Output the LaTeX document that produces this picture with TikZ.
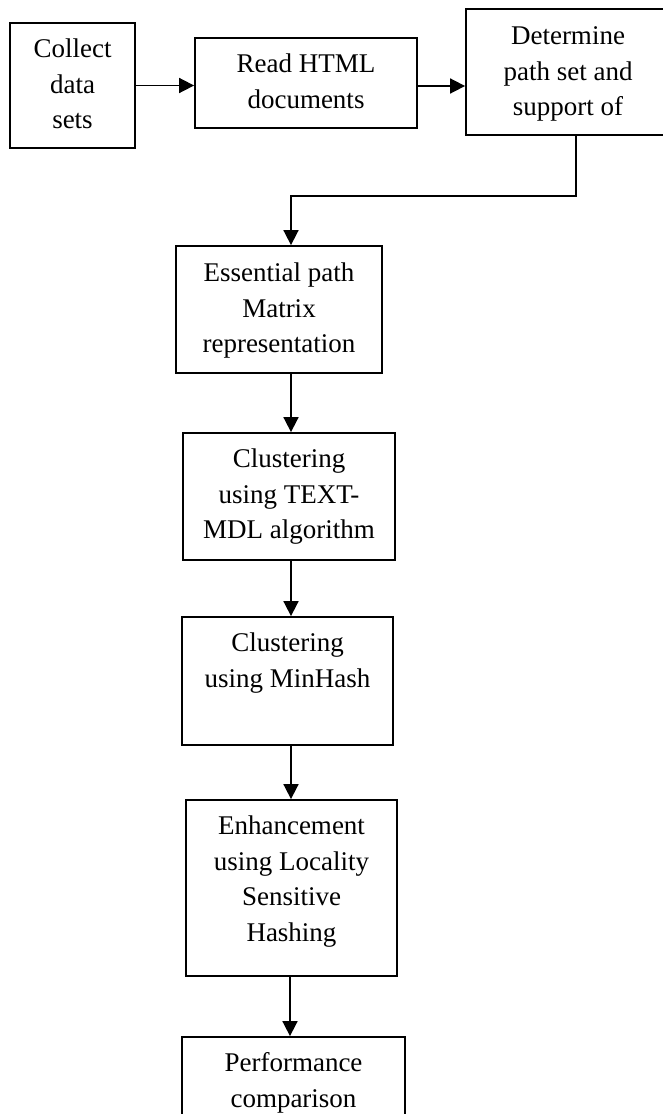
\documentclass[tikz,border=0pt]{standalone}
\usepackage{fontspec}
\setmainfont{Liberation Serif}
\usetikzlibrary{arrows.meta,calc}
\begin{document}
\begin{tikzpicture}[x=1pt,y=-1pt,
  box/.style={draw, line width=1.8pt, inner sep=0pt},
  txt/.style={anchor=north, align=center, inner sep=0pt, font=\fontsize{27}{35.5}\selectfont},
  conn/.style={line width=1.7pt, -{Triangle[length=15pt,width=15pt]}}]
\clip (0,0) rectangle (663,1114);
\fill[white] (0,0) rectangle (663,1114);
% boxes
\node[box, minimum width=125pt, minimum height=125pt] (collect) at (72.5,85.5) {};
\node[box, minimum width=222pt, minimum height=90pt] (read) at (306,83) {};
\node[box, minimum width=204pt, minimum height=126pt] (determine) at (568,72) {};
\node[box, minimum width=206pt, minimum height=127pt] (essential) at (279,309.5) {};
\node[box, minimum width=212pt, minimum height=127pt] (textmdl) at (289,496.5) {};
\node[box, minimum width=211pt, minimum height=128pt] (minhash) at (287.5,681) {};
\node[box, minimum width=211pt, minimum height=176pt] (enh) at (291.5,888) {};
\node[box, minimum width=223pt, minimum height=133pt] (perf) at (293.5,1103.5) {};
% texts
\node[txt] (tcollect) at ($(collect.north)+(0,16.6)$) {Collect\\data\\sets};
\node[txt] (tread) at ($(read.north)+(0,16.6)$) {Read HTML\\documents};
\node[txt] (tdetermine) at ($(determine.north)+(0,18.6)$) {Determine\\path set and\\support of};
\node[txt] (tessential) at ($(essential.north)+(0,17.6)$) {Essential path\\Matrix\\representation};
\node[txt] (ttextmdl) at ($(textmdl.north)+(0,16.6)$) {Clustering\\using TEXT-\\MDL algorithm};
\node[txt] (tminhash) at ($(minhash.north)+(0,16.6)$) {Clustering\\using MinHash};
\node[txt] (tenh) at ($(enh.north)+(0,16.6)$) {Enhancement\\using Locality\\Sensitive\\Hashing};
\node[txt] (tperf) at ($(perf.north)+(0,16.6)$) {Performance\\comparison};
% connectors
\coordinate (c1) at (576,196);
\coordinate (c2) at (291,196);
\coordinate (ax) at (291,0);
\coordinate (ax2) at (290,0);
\draw[conn] (collect.east) -- (collect.east -| read.west);
\draw[conn] ([yshift=-3pt]read.east) -- ([yshift=-3pt]read.east -| determine.west);
\draw[conn] (determine.south -| c1) |- (c2) -- (c2 |- essential.north);
\draw[conn] (essential.south -| ax) -- (textmdl.north -| ax);
\draw[conn] (textmdl.south -| ax) -- (minhash.north -| ax);
\draw[conn] (minhash.south -| ax) -- (enh.north -| ax);
\draw[conn] (enh.south -| ax2) -- (perf.north -| ax2);
\end{tikzpicture}
\end{document}
